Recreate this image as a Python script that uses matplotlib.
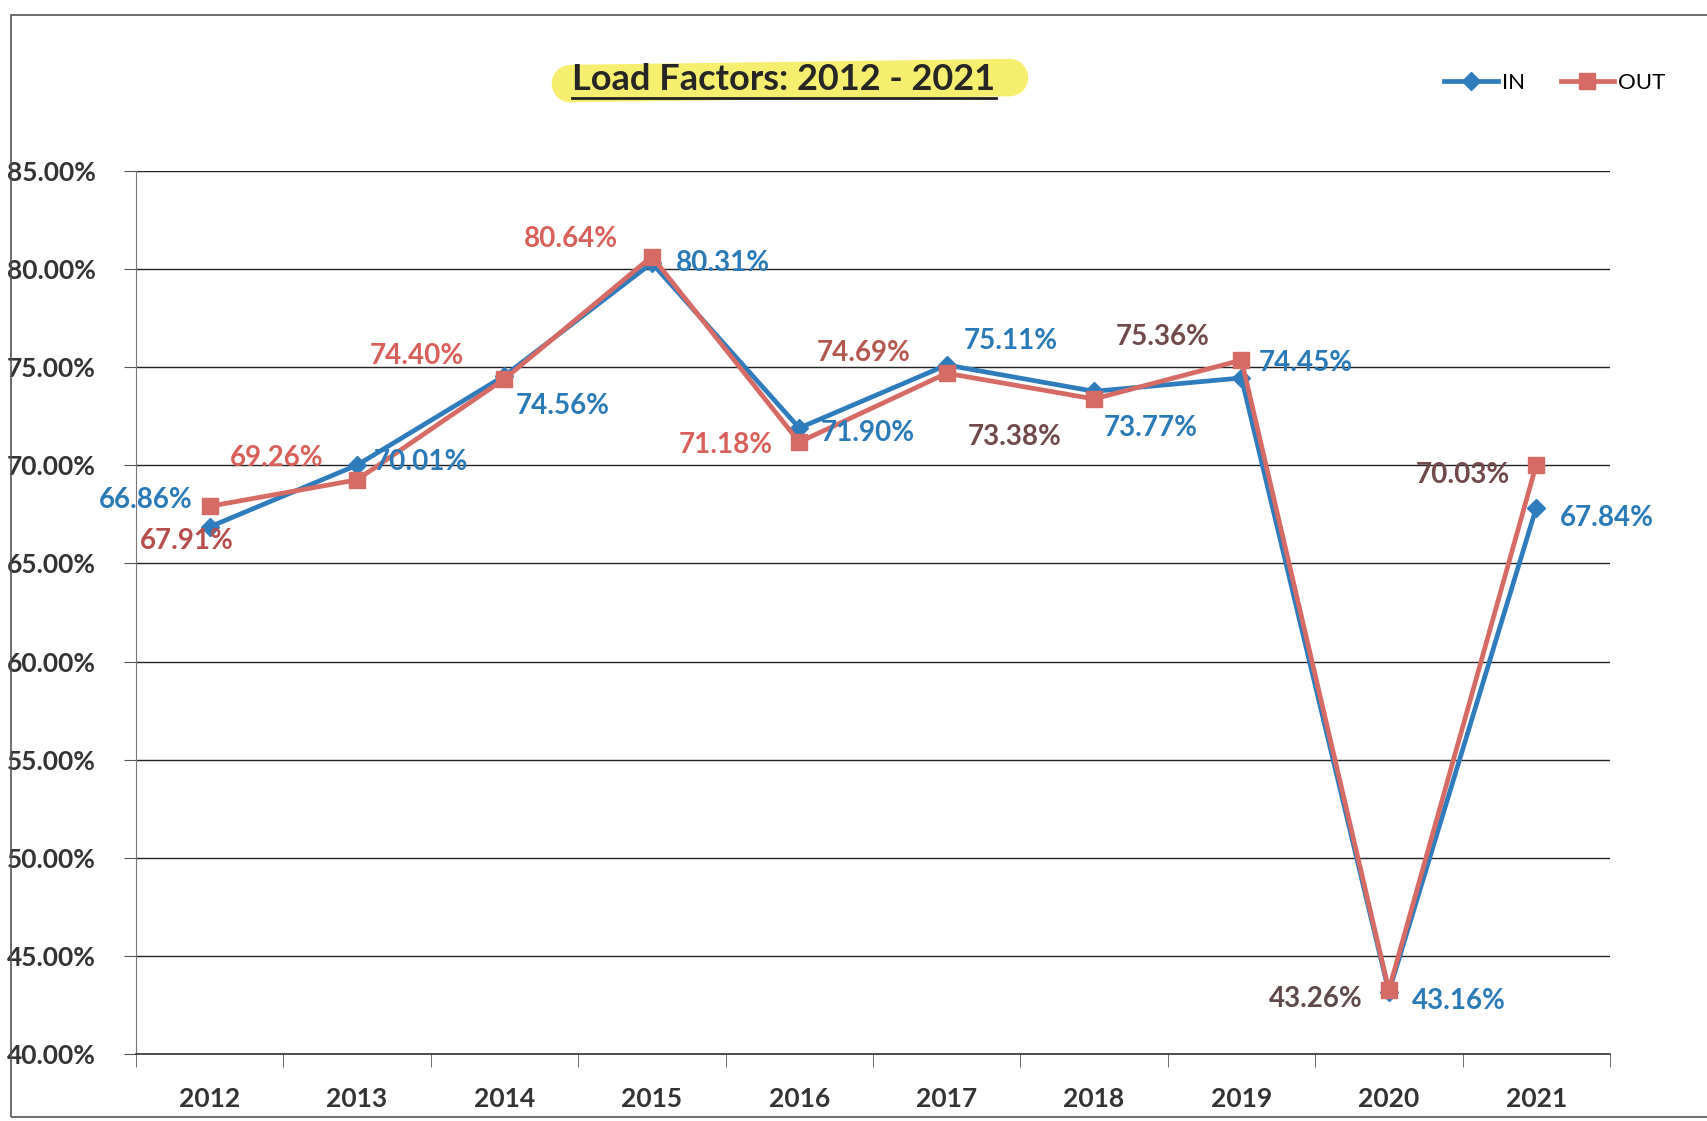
import matplotlib.pyplot as plt
import numpy as np
from matplotlib.lines import Line2D
from matplotlib.patches import Rectangle

plt.rcParams['font.family'] = ['Lato', 'DejaVu Sans']

years = ['2012', '2013', '2014', '2015', '2016', '2017', '2018', '2019', '2020', '2021']
in_vals = [66.86, 70.01, 74.56, 80.31, 71.90, 75.11, 73.77, 74.45, 43.16, 67.84]
out_vals = [67.91, 69.26, 74.40, 80.64, 71.18, 74.69, 73.38, 75.36, 43.26, 70.03]

# label offsets in pixels (dx, dy) and alignment
in_off = [(-17, 27), (17, 3), (11, -30), (24, 0), (21, -5), (17, 24), (10, -37), (17, 15), (23, -9), (24, -10)]
in_ha = ['right', 'left', 'left', 'left', 'left', 'left', 'left', 'left', 'left', 'left']
out_off = [(-23, -35), (-34, 22), (-40, 23), (-34, 18), (-26, -3), (-36, 20), (-32, -38), (-32, 23), (-26, -9), (-26, -10)]
out_ha = ['center', 'right', 'right', 'right', 'right', 'right', 'right', 'right', 'right', 'right']
out_lbl_col = ['#b54e4c', '#d9605a', '#d9605a', '#d9605a', '#d9605a', '#b3574f',
               '#70494a', '#70494a', '#5e4a4a', '#70494a']

blue = '#2f7cbd'
red = '#d66a64'

fig = plt.figure(figsize=(17.08, 11.21), dpi=100)
ax = fig.add_axes([0.0796, 0.0598, 0.8630, 0.7877])

x = np.arange(len(years))
ax.plot(x, in_vals, color=blue, lw=3.4, marker='D', ms=9, zorder=3, label='IN')
ax.plot(x, out_vals, color=red, lw=3.4, marker='s', ms=12, zorder=4, label='OUT')

for i in range(len(years)):
    ax.annotate(f'{in_vals[i]:.2f}%', (x[i], in_vals[i]), xytext=in_off[i],
                textcoords='offset pixels', ha=in_ha[i], va='center',
                fontsize=20, fontweight='bold', color='#2a7ab8', zorder=5)
    ax.annotate(f'{out_vals[i]:.2f}%', (x[i], out_vals[i]), xytext=out_off[i],
                textcoords='offset pixels', ha=out_ha[i], va='center',
                fontsize=20, fontweight='bold', color=out_lbl_col[i], zorder=5)

ax.set_xlim(-0.5, len(years) - 0.5)
ax.set_ylim(40, 85)
ax.set_yticks(np.arange(40, 86, 5))
ax.set_yticklabels([f'{v:.2f}%' for v in np.arange(40, 86, 5)])
ax.set_xticks(x)
ax.set_xticklabels(years)
ax.set_xticks(np.arange(-0.5, len(years)), minor=True)
ax.tick_params(axis='x', which='major', length=0, pad=24, labelsize=19, labelcolor='#333333')
ax.tick_params(axis='x', which='minor', length=9, color='#555555', direction='out')
ax.tick_params(axis='y', length=9, color='#555555', pad=20, labelsize=19, labelcolor='#333333')
for lab in ax.get_xticklabels() + ax.get_yticklabels():
    lab.set_fontweight('bold')

ax.grid(axis='y', color='#222222', lw=1.0)
ax.set_axisbelow(True)
for s in ['top', 'right']:
    ax.spines[s].set_visible(False)
ax.spines['left'].set_color('#777777')
ax.spines['bottom'].set_color('#333333')
ax.spines['bottom'].set_linewidth(1.2)

# legend
ax.legend(loc='center right', bbox_to_anchor=(0.987, 0.926), bbox_transform=fig.transFigure,
          ncol=2, frameon=False, fontsize=16, handlelength=2.4, columnspacing=1.6,
          handletextpad=0.2)

# title with highlight stroke and underline
t = fig.text(0.459, 0.929, 'Load Factors: 2012 - 2021', ha='center', va='center',
             fontsize=26, fontweight='bold', color='#262626', zorder=5)
fig.canvas.draw()
bb = t.get_window_extent(renderer=fig.canvas.get_renderer())
fw, fh = fig.bbox.width, fig.bbox.height
yc = (bb.y0 + bb.y1) / 2
fig.add_artist(Line2D([(bb.x0 - 2) / fw, (bb.x1 + 14) / fw], [(yc - 4) / fh, (yc + 2) / fh],
                      color='#f6ee6e', lw=27, solid_capstyle='round', zorder=1))
fig.add_artist(Line2D([bb.x0 / fw, bb.x1 / fw], [(bb.y0 - 2) / fh] * 2,
                      color='#222222', lw=2, zorder=6))

# scanned page frame
fig.add_artist(Rectangle((11 / 1708, 4 / 1121), 1.05, 1 - 19 / 1121, fill=False,
                         edgecolor='#555555', lw=1.2, transform=fig.transFigure))

fig.savefig('out.png', dpi=100)
